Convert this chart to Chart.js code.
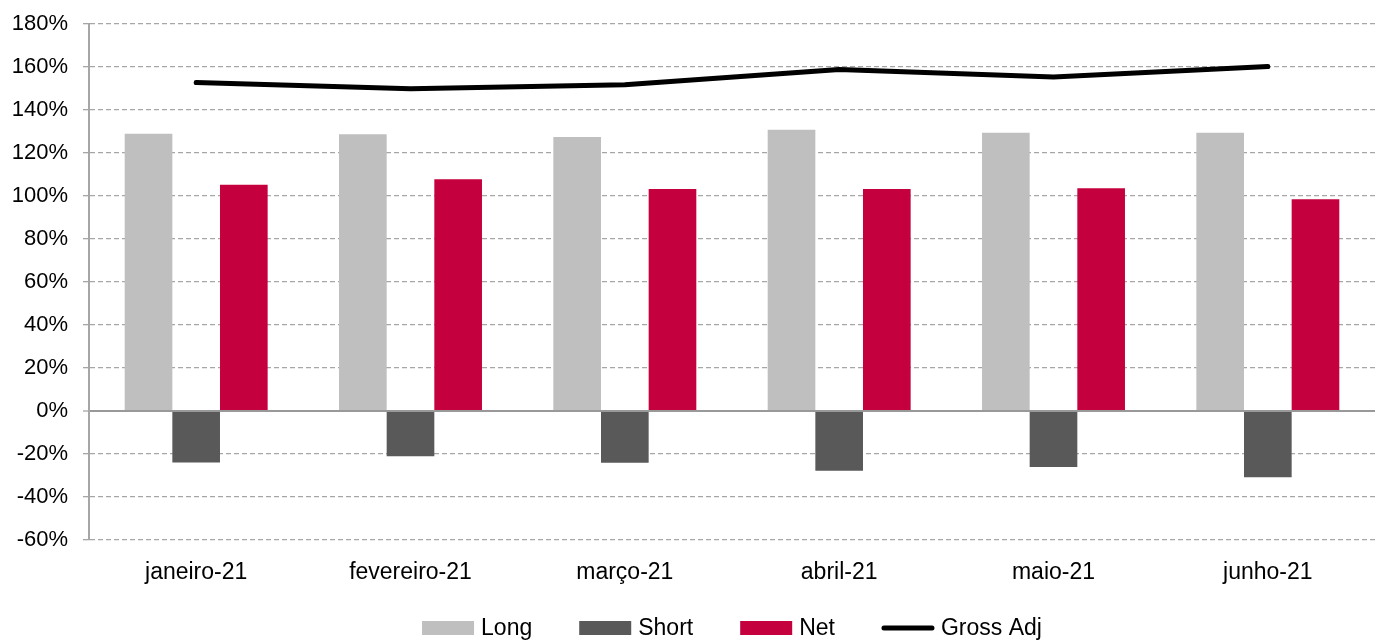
<!DOCTYPE html>
<html>
<head>
<meta charset="utf-8">
<title>Exposição mensal</title>
<script src="https://cdn.jsdelivr.net/npm/chart.js@4"></script>
<style>
  html, body { margin: 0; padding: 0; background: #ffffff; }
  #wrap { width: 1384px; height: 641px; position: relative; }
</style>
</head>
<body>
<div id="wrap"><canvas id="chart"></canvas></div>
<script>
// Months shown on the category axis
const months = ['janeiro-21', 'fevereiro-21', 'março-21', 'abril-21', 'maio-21', 'junho-21'];

// Exposure per month, in percent
const longValues  = [128.9, 128.7, 127.5, 130.8, 129.4, 129.4];
const shortValues = [-24.0, -21.0, -24.1, -27.8, -26.0, -30.8];
const netValues   = [105.2, 107.8, 103.3, 103.3, 103.6, 98.5];
const grossAdj    = [152.8, 149.9, 151.7, 158.8, 155.3, 160.2];

// Value axis range
const yMin = -60;
const yMax = 180;
const yStep = 20;

const FONT = "'Liberation Sans', Arial, sans-serif";
const GRID = '#a6a6a6';

// Legend row under the axis: swatch boxes for bars, a short stroke for the line
const bottomLegend = {
  id: 'bottomLegend',
  afterDraw(chart, args, opts) {
    const ctx = chart.ctx;
    const area = chart.chartArea;
    const order = [1, 2, 3, 0];
    ctx.save();
    ctx.font = opts.fontSize + 'px ' + FONT;
    ctx.textBaseline = 'middle';
    ctx.textAlign = 'left';
    const items = order.map((i) => {
      const ds = chart.data.datasets[i];
      return { ds, textW: ctx.measureText(ds.label).width };
    });
    const total = items.reduce((s, it) => s + opts.swatchW + opts.textGap + it.textW, 0)
      + opts.itemGap * (items.length - 1);
    let x = (area.left + area.right) / 2 - total / 2;
    const y = opts.y;
    items.forEach((it) => {
      const ds = it.ds;
      if (ds.type === 'line') {
        ctx.strokeStyle = ds.borderColor;
        ctx.lineWidth = ds.borderWidth;
        ctx.lineCap = 'round';
        ctx.beginPath();
        ctx.moveTo(x + 2, y);
        ctx.lineTo(x + opts.swatchW - 2, y);
        ctx.stroke();
      } else {
        ctx.fillStyle = ds.backgroundColor;
        ctx.fillRect(x, y - opts.swatchH / 2, opts.swatchW, opts.swatchH);
      }
      x += opts.swatchW + opts.textGap;
      ctx.fillStyle = '#000000';
      ctx.fillText(ds.label, x, y + 1);
      x += it.textW + opts.itemGap;
    });
    ctx.restore();
  }
};

const chart = new Chart(document.getElementById('chart'), {
  data: {
    labels: months,
    datasets: [
      { type: 'line', label: 'Gross Adj', data: grossAdj, borderColor: '#000000', backgroundColor: '#000000',
        borderWidth: 5, pointRadius: 0, pointHoverRadius: 0, tension: 0,
        borderCapStyle: 'round', borderJoinStyle: 'round', order: 0 },
      { type: 'bar', label: 'Long', data: longValues, backgroundColor: '#bfbfbf', order: 1 },
      { type: 'bar', label: 'Short', data: shortValues, backgroundColor: '#595959', order: 1 },
      { type: 'bar', label: 'Net', data: netValues, backgroundColor: '#c5003e', order: 1 }
    ]
  },
  plugins: [bottomLegend],
  options: {
    responsive: true,
    maintainAspectRatio: false,
    animation: false,
    layout: { padding: { left: 0, right: 9, top: 24, bottom: 29 } },
    datasets: {
      bar: { categoryPercentage: 0.667, barPercentage: 1.0, borderWidth: 0 }
    },
    scales: {
      x: {
        grid: { display: false },
        border: { display: false },
        ticks: { color: '#000000', font: { family: FONT, size: 23 }, padding: 11, maxRotation: 0 },
        afterFit: (s) => { s.height = 72; }
      },
      y: {
        min: yMin,
        max: yMax,
        afterFit: (s) => { s.width = 89; },
        ticks: {
          stepSize: yStep,
          color: '#000000',
          padding: 15,
          font: { family: FONT, size: 22, lineHeight: 0.8 },
          callback: (v) => v + '%'
        },
        grid: {
          color: (c) => (c.tick && c.tick.value === 0) ? '#999999' : GRID,
          lineWidth: (c) => (c.tick && c.tick.value === 0) ? 2 : 1.3,
          tickLength: 6,
          tickColor: GRID,
          tickWidth: 1.3,
          tickBorderDash: []
        },
        border: {
          display: true,
          color: GRID,
          width: 2,
          dash: (c) => (c.type === 'tick' && c.tick && c.tick.value !== 0) ? [5, 3] : []
        }
      }
    },
    plugins: {
      tooltip: { enabled: false },
      legend: { display: false },
      bottomLegend: { y: 628, fontSize: 23, swatchW: 52, swatchH: 14, textGap: 7, itemGap: 47 }
    }
  }
});
</script>
</body>
</html>
